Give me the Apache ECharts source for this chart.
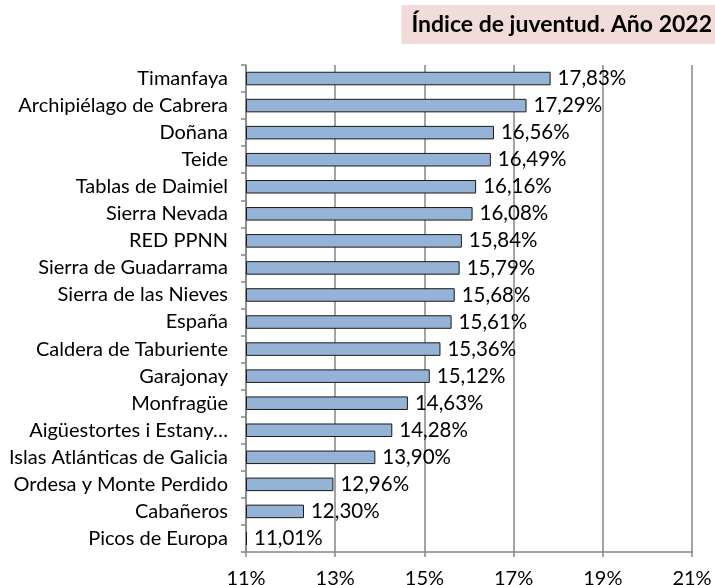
<!DOCTYPE html>
<html><head><meta charset="utf-8">
<script src="https://cdn.jsdelivr.net/npm/echarts@6/dist/echarts.min.js"></script>
<style>html,body{margin:0;padding:0;background:#fff}#c{width:715px;height:585px}</style>
</head><body><div id="c"></div>
<script>
const categories = ["Timanfaya","Archipiélago de Cabrera","Doñana","Teide","Tablas de Daimiel","Sierra Nevada","RED PPNN","Sierra de Guadarrama","Sierra de las Nieves","España","Caldera de Taburiente","Garajonay","Monfragüe","Aigüestortes i Estany…","Islas Atlánticas de Galicia","Ordesa y Monte Perdido","Cabañeros","Picos de Europa"];
const values = [17.83,17.29,16.56,16.49,16.16,16.08,15.84,15.79,15.68,15.61,15.36,15.12,14.63,14.28,13.90,12.96,12.30,11.01];
const xTicks = [11,13,15,17,19,21];
const titleText = "Índice de juventud. Año 2022";

const font = "Lato, 'Open Sans', sans-serif";
const chart = echarts.init(document.getElementById('c'));
chart.setOption({
  animation: false,
  title: {
    text: titleText, right: 0, top: 5,
    backgroundColor: '#f2dcdb',
    padding: [8, 3, 8, 10],
    textStyle: {fontFamily: font, fontWeight: 'bold', fontSize: 23, color: '#000'}
  },
  grid: {left: 246, right: 23, top: 65, bottom: 33, outerBoundsMode: 'none', containLabel: false},
  xAxis: {
    type: 'value', min: xTicks[0], max: xTicks[xTicks.length-1], interval: 2, startValue: xTicks[0],
    axisLine: {show: true, lineStyle: {color: '#868686', width: 1.5}},
    axisTick: {show: true, length: 5, lineStyle: {color: '#868686', width: 1.5}},
    splitLine: {show: true, lineStyle: {color: '#868686', width: 1.5}},
    axisLabel: {formatter: v => v + '%', fontFamily: font, fontSize: 20, color: '#000', margin: 17}
  },
  yAxis: {
    type: 'category', data: categories, inverse: true,
    axisLine: {show: true, lineStyle: {color: '#868686', width: 1.5}},
    axisTick: {show: true, length: 5, interval: 0, lineStyle: {color: '#868686', width: 1.5}},
    axisLabel: {interval: 0, fontFamily: font, fontSize: 20, color: '#000', margin: 18}
  },
  series: [{
    type: 'bar', data: values, barCategoryGap: '50%', barMinHeight: 1,
    itemStyle: {color: '#95b3d7', borderColor: '#1a1a1a', borderWidth: 1},
    label: {show: true, position: 'right', distance: 7, fontFamily: font, fontSize: 20.5, color: '#000',
      formatter: p => p.value.toFixed(2).replace('.', ',') + '%'}
  }]
});
</script></body></html>
